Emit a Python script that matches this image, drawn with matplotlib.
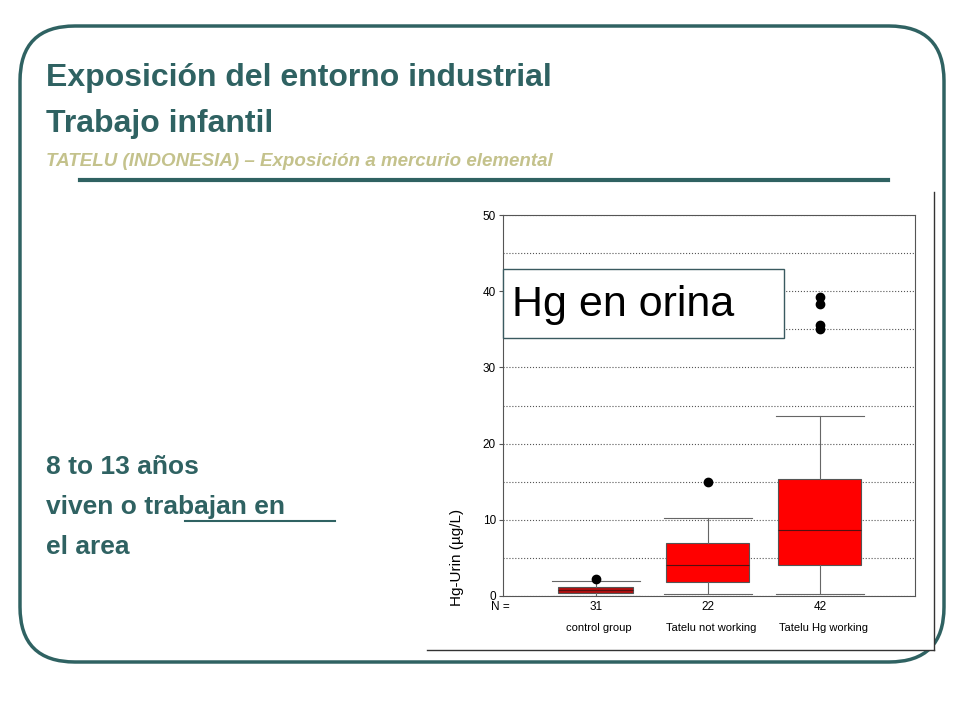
import matplotlib.pyplot as plt
from matplotlib.patches import FancyBboxPatch, Rectangle

plt.rcParams['font.family'] = 'Liberation Sans'

W, H = 960, 720
TEAL = '#2f6262'
OLIVE = '#c4c28c'

groups = ['control group', 'Tatelu not working', 'Tatelu Hg working']
counts = ['31', '22', '42']
whislo = [0.0, 0.3, 0.2]
q1 = [0.35, 1.8, 4.1]
med = [0.75, 4.1, 8.6]
q3 = [1.2, 6.9, 15.4]
whishi = [2.0, 10.3, 23.6]
fliers = [[2.2], [15.0], [39.2, 38.3, 35.6, 35.0]]
box_colors = ['#b01010', 'red', 'red']


def px(x, y):
    return x / W, 1 - y / H


fig = plt.figure(figsize=(9.6, 7.2), dpi=100)
fig.patch.set_facecolor('white')
bg = fig.add_axes([0, 0, 1, 1])
bg.set_xlim(0, W); bg.set_ylim(H, 0); bg.axis('off')
bg.add_patch(FancyBboxPatch((20, 26), 924, 636, boxstyle='round,pad=0,rounding_size=55',
                            fc='white', ec=TEAL, lw=2.5))
bg.text(46, 78, 'Exposición del entorno industrial', fontsize=23, fontweight='bold',
        color=TEAL, va='center')
bg.text(46, 124, 'Trabajo infantil', fontsize=23, fontweight='bold',
        color=TEAL, va='center')
bg.text(46, 161, 'TATELU (INDONESIA) – Exposición a mercurio elemental', fontsize=13.5,
        fontweight='bold', style='italic', color=OLIVE, va='center')
bg.plot([80, 888], [180, 180], color=TEAL, lw=3)
for i, s in enumerate(['8 to 13 años', 'viven o trabajan en', 'el area']):
    bg.text(46, 467 + i * 40, s, fontsize=19, fontweight='bold', color=TEAL, va='center')
bg.plot([185, 335], [521, 521], color=TEAL, lw=1.5)
bg.add_patch(Rectangle((427, 190), 507, 460, fc='white', ec='none'))
bg.plot([934, 934], [192, 650], color='#333333', lw=1)
bg.plot([427, 934], [650, 650], color='#333333', lw=1)

x0, y0 = px(503, 596)
x1, y1 = px(915, 215)
ax = fig.add_axes([x0, y0, x1 - x0, y1 - y0])
stats = [dict(label=g, whislo=a, q1=b, med=c, q3=d, whishi=e, fliers=f)
         for g, a, b, c, d, e, f in zip(groups, whislo, q1, med, q3, whishi, fliers)]
pos = [1, 2, 3]
bp = ax.bxp(stats, positions=pos, widths=[0.67, 0.74, 0.74], patch_artist=True,
            medianprops=dict(color='#551010', lw=0.8),
            whiskerprops=dict(color='#666666', lw=0.8),
            capprops=dict(color='#666666', lw=0.8),
            flierprops=dict(marker='o', markerfacecolor='black', markeredgecolor='black',
                            markersize=6))
for p, c in zip(bp['boxes'], box_colors):
    p.set_facecolor(c); p.set_edgecolor('#555555'); p.set_linewidth(0.8)
for cap in bp['caps']:
    m = cap.get_xdata().mean()
    cap.set_xdata([m - 0.39, m + 0.39])
ax.set_xlim(0.17, 3.85)
ax.set_ylim(0, 50)
ax.set_yticks([0, 10, 20, 30, 40, 50])
ax.set_yticks([5, 15, 25, 35, 45], minor=True)
ax.tick_params(axis='y', which='minor', length=0)
ax.yaxis.grid(True, which='both', ls=':', color='#555555', lw=0.8)
ax.set_axisbelow(True)
ax.tick_params(axis='y', labelsize=8.5, length=3, color='#555555', pad=2)
ax.set_xticks([])
for s in ax.spines.values():
    s.set_color('#555555'); s.set_linewidth(0.8)
ax.set_ylabel('Hg-Urin (µg/L)', fontsize=11)
ax.yaxis.set_label_coords(-0.095, 0.1)
ax.text(-0.03, -0.028, 'N =', transform=ax.transAxes, fontsize=8.5, va='center')
for x, n, g in zip(pos, counts, groups):
    ax.text(x, -0.028, n, transform=ax.get_xaxis_transform(), fontsize=8.5,
            ha='center', va='center')
    ax.text(x + 0.03, -0.085, g, transform=ax.get_xaxis_transform(), fontsize=8,
            ha='center', va='center')

ov = fig.add_axes([0, 0, 1, 1])
ov.set_xlim(0, W); ov.set_ylim(H, 0); ov.axis('off')
ov.add_patch(Rectangle((503, 269), 281, 69, fc='white', ec='#3a5a60', lw=1))
ov.text(512, 305, 'Hg en orina', fontsize=31, va='center')

fig.savefig('out.png', dpi=100, facecolor='white')
